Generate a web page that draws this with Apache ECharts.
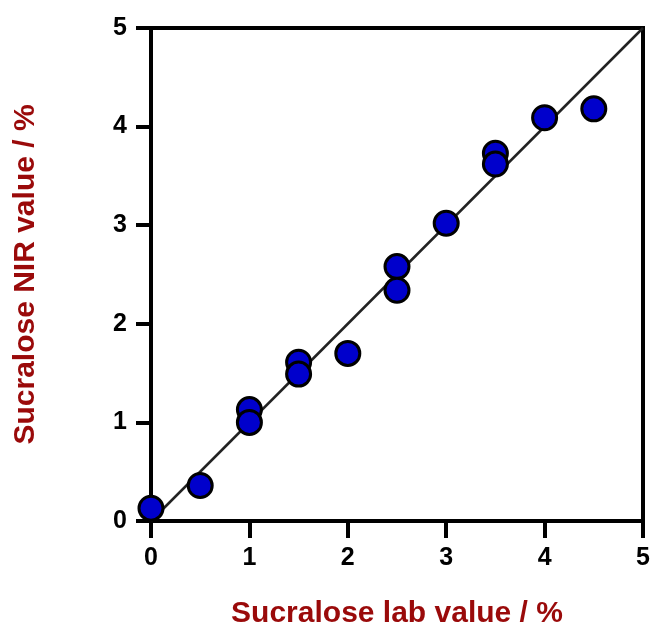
<!DOCTYPE html>
<html><head><meta charset="utf-8">
<script src="https://cdn.jsdelivr.net/npm/echarts@6/dist/echarts.min.js"></script>
<style>html,body{margin:0;padding:0;background:#fff}#c{width:654px;height:635px}</style>
</head><body><div id="c"></div>
<script>
const labValues = [0, 0.5, 1, 1, 1.5, 1.5, 2, 2.5, 2.5, 3, 3.5, 3.5, 4, 4.5];
const nirValues = [0.13, 0.36, 1.13, 1.0, 1.61, 1.49, 1.70, 2.58, 2.34, 3.02, 3.73, 3.62, 4.09, 4.18];
const idealLine = [[0, 0], [5, 5]];
const xTicks = [0, 1, 2, 3, 4, 5];
const yTicks = [0, 1, 2, 3, 4, 5];

const chart = echarts.init(document.getElementById('c'), null, {renderer: 'canvas'});
const axisFont = {fontFamily: 'Liberation Sans, Arial, sans-serif', fontWeight: 'bold', fontSize: 25, color: '#000'};
const nameFont = {fontFamily: 'Liberation Sans, Arial, sans-serif', fontWeight: 'bold', fontSize: 30, color: '#9a0a0a'};
chart.setOption({
  animation: false,
  backgroundColor: '#fff',
  grid: {left: 151, top: 28, right: 11, bottom: 114, show: true, borderColor: '#000', borderWidth: 4, backgroundColor: 'transparent'},
  xAxis: {
    type: 'value', min: 0, max: 5, interval: 1,
    name: 'Sucralose lab value / %', nameLocation: 'middle', nameGap: 78, nameTextStyle: nameFont,
    axisLine: {show: true, onZero: false, lineStyle: {color: '#000', width: 4}},
    axisTick: {show: true, length: 17, lineStyle: {color: '#000', width: 4}},
    axisLabel: Object.assign({margin: 25, formatter: v => xTicks.includes(v) ? String(v) : ''}, axisFont),
    splitLine: {show: false}
  },
  yAxis: {
    type: 'value', min: 0, max: 5, interval: 1,
    name: 'Sucralose NIR value / %', nameLocation: 'middle', nameGap: 110, nameTextStyle: nameFont,
    axisLine: {show: true, onZero: false, lineStyle: {color: '#000', width: 4}},
    axisTick: {show: true, length: 15, lineStyle: {color: '#000', width: 4}},
    axisLabel: Object.assign({margin: 24, formatter: v => yTicks.includes(v) ? String(v) : ''}, axisFont),
    splitLine: {show: false}
  },
  series: [
    {
      type: 'line', data: idealLine, symbol: 'none', silent: true,
      lineStyle: {color: '#222', width: 2.5}, z: 2
    },
    {
      type: 'scatter', data: labValues.map((x, i) => [x, nirValues[i]]),
      symbol: 'circle', symbolSize: 24,
      itemStyle: {color: '#0000cc', borderColor: '#000', borderWidth: 3, opacity: 1}, z: 3
    }
  ]
});
</script>
</body></html>
